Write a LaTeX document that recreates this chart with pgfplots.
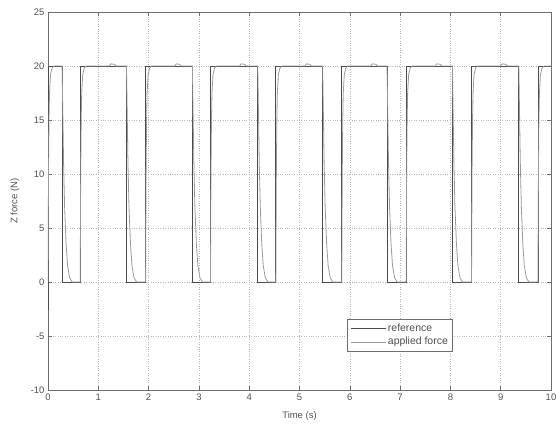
\documentclass[border=0pt]{standalone}
\usepackage{fontspec}
\setmainfont{Liberation Sans}
\usepackage{pgfplots}
\pgfplotsset{compat=1.18}
\definecolor{refc}{HTML}{4A4A4A}
\definecolor{appc}{HTML}{9A9A9A}
\definecolor{framec}{HTML}{6E6E6E}
\definecolor{txtc}{HTML}{505050}
\definecolor{gridc}{HTML}{B8B8B8}
\begin{document}
\begin{tikzpicture}
\begin{axis}[
  scale only axis,
  width=503bp, height=378bp,
  xmin=0, xmax=10, ymin=-10, ymax=25,
  xtick={0,1,...,10}, ytick={-10,-5,...,25},
  tick align=inside, tick pos=both,
  major tick length=4bp,
  grid=major,
  grid style={dotted, gridc, line width=0.6pt},
  axis line style={framec, line width=0.8pt},
  every tick/.style={framec, line width=0.6pt},
  font=\fontsize{9.5}{11}\selectfont,
  tick label style={txtc, font=\fontsize{9.5}{11}\selectfont},
  /pgf/number format/assume math mode=true,
  xlabel={Time (s)}, ylabel={Z force (N)},
  every axis x label/.style={at={(axis description cs:0.5,0)}, anchor=center, yshift=-26bp, txtc},
  every axis y label/.style={at={(axis description cs:0,0.5)}, anchor=center, xshift=-33bp, rotate=90, txtc},
  legend style={at={(0.594,0.188)}, anchor=north west, draw=framec, line width=0.8pt,
    font=\fontsize{10.5}{12}\selectfont, text=txtc, inner xsep=3pt, inner ysep=2.5pt, row sep=0.5pt},
  legend image code/.code={\draw[#1] (0bp,0bp) -- (35bp,0bp);},
  legend cell align=left,
]
\addplot[refc, line width=0.8pt] coordinates {
(0,-2.6)(0,20)(0.28,20)(0.28,0)(0.64,0)(0.64,20)(1.56,20)(1.56,0)(1.94,0)(1.94,20)(2.87,20)(2.87,0)(3.23,0)(3.23,20)(4.17,20)(4.17,0)(4.53,0)(4.53,20)(5.46,20)(5.46,0)(5.84,0)(5.84,20)(6.74,20)(6.74,0)(7.12,0)(7.12,20)(8.04,20)(8.04,0)(8.42,0)(8.42,20)(9.36,20)(9.36,0)(9.74,0)(9.74,20)(10,20)
};
\addlegendentry{reference}
\addplot[appc, line width=0.8pt] coordinates {
(0,0)(0.01,10)(0.02,15)(0.03,17.5)(0.05,19.2)(0.08,19.8)(0.12,20)(0.28,20)(0.29,17)(0.31,11)(0.33,7)(0.36,3.5)(0.39,1.5)(0.43,0.4)(0.48,0)
(0.64,0)(0.65,10)(0.66,15)(0.67,17.5)(0.69,19.2)(0.72,19.8)(0.76,20)(1.22,20)(1.25,20.2)(1.32,20.15)(1.35,20)(1.56,20)(1.57,17)(1.59,11)(1.61,7)(1.64,3.5)(1.67,1.5)(1.71,0.4)(1.76,0)
(1.94,0)(1.95,10)(1.96,15)(1.97,17.5)(1.99,19.2)(2.02,19.8)(2.06,20)(2.52,20)(2.55,20.2)(2.62,20.15)(2.65,20)(2.87,20)(2.88,17)(2.90,11)(2.92,7)(2.95,3.5)(2.98,1.5)(3.02,0.4)(3.07,0)
(3.23,0)(3.24,10)(3.25,15)(3.26,17.5)(3.28,19.2)(3.31,19.8)(3.35,20)(3.81,20)(3.84,20.2)(3.91,20.15)(3.94,20)(4.17,20)(4.18,17)(4.20,11)(4.22,7)(4.25,3.5)(4.28,1.5)(4.32,0.4)(4.37,0)
(4.53,0)(4.54,10)(4.55,15)(4.56,17.5)(4.58,19.2)(4.61,19.8)(4.65,20)(5.11,20)(5.14,20.2)(5.21,20.15)(5.24,20)(5.46,20)(5.47,17)(5.49,11)(5.51,7)(5.54,3.5)(5.57,1.5)(5.61,0.4)(5.66,0)
(5.84,0)(5.85,10)(5.86,15)(5.87,17.5)(5.89,19.2)(5.92,19.8)(5.96,20)(6.42,20)(6.45,20.2)(6.52,20.15)(6.55,20)(6.74,20)(6.75,17)(6.77,11)(6.79,7)(6.82,3.5)(6.85,1.5)(6.89,0.4)(6.94,0)
(7.12,0)(7.13,10)(7.14,15)(7.15,17.5)(7.17,19.2)(7.20,19.8)(7.24,20)(7.70,20)(7.73,20.2)(7.80,20.15)(7.83,20)(8.04,20)(8.05,17)(8.07,11)(8.09,7)(8.12,3.5)(8.15,1.5)(8.19,0.4)(8.24,0)
(8.42,0)(8.43,10)(8.44,15)(8.45,17.5)(8.47,19.2)(8.50,19.8)(8.54,20)(9.00,20)(9.03,20.2)(9.10,20.15)(9.13,20)(9.36,20)(9.37,17)(9.39,11)(9.41,7)(9.44,3.5)(9.47,1.5)(9.51,0.4)(9.56,0)
(9.74,0)(9.75,10)(9.76,15)(9.77,17.5)(9.79,19.2)(9.82,19.8)(9.86,20)(10,20)
};
\addlegendentry{applied force}
\end{axis}
\pgfresetboundingbox
\path (-48bp,-39bp) rectangle (508bp,390bp);
\end{tikzpicture}
\end{document}
